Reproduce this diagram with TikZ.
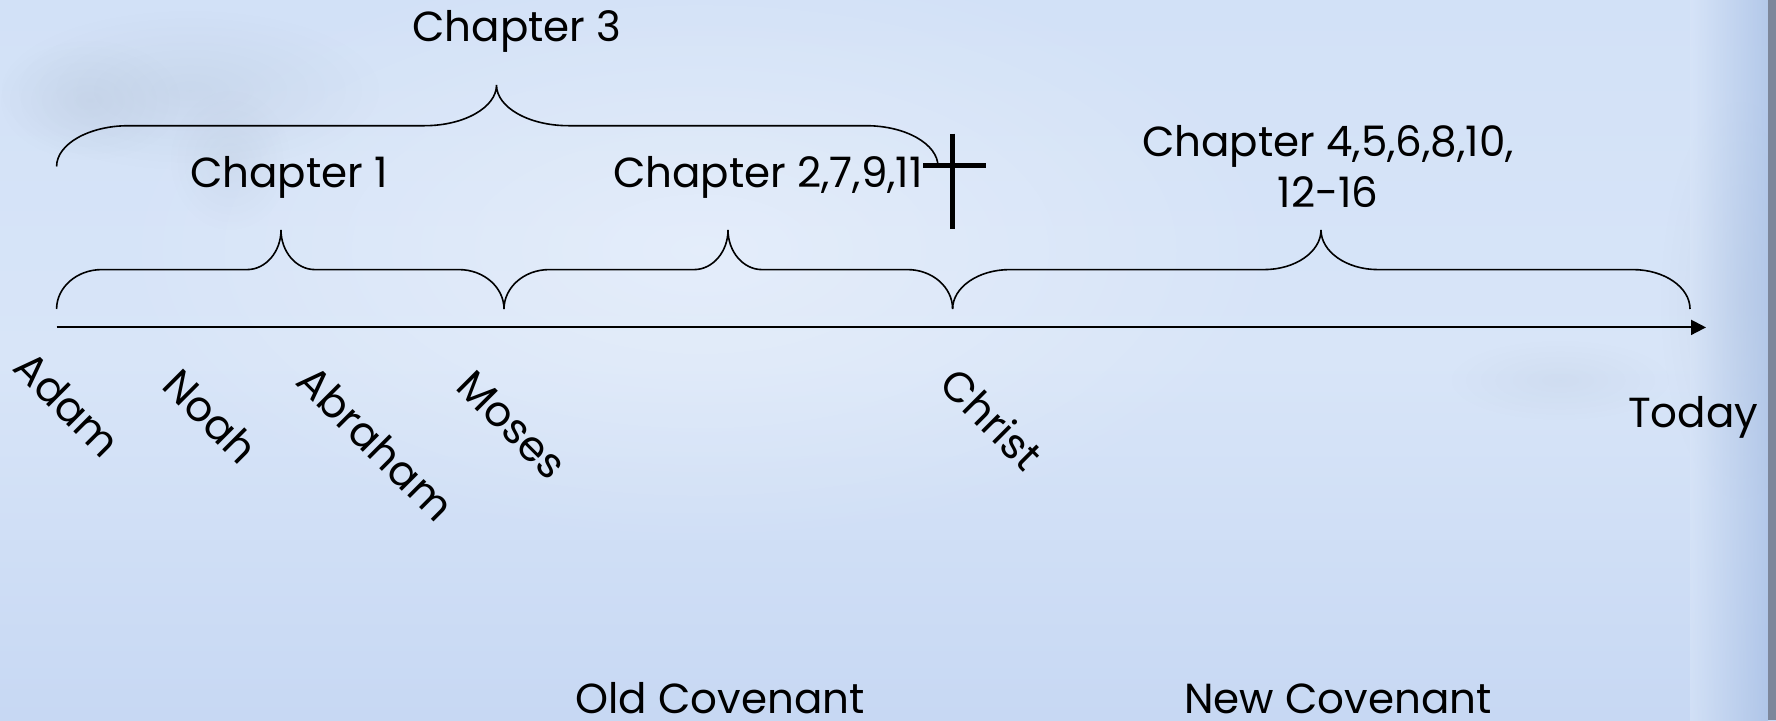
\documentclass[tikz,border=0pt]{standalone}
\usepackage{fontspec}
\setmainfont{Poppins}
\usetikzlibrary{arrows.meta,fadings}
\tikzfading[name=softfade, inner color=transparent!0, outer color=transparent!100]
\definecolor{bgtop}{RGB}{210,225,247}
\definecolor{bgmid}{RGB}{216,229,248}
\definecolor{bgbot}{RGB}{199,216,243}
\definecolor{cloud}{RGB}{165,180,200}
\definecolor{edgeblue}{RGB}{160,185,225}
\definecolor{edgegray}{RGB}{125,135,155}
\newcommand\tlbrace[8]{%
  \draw[bracestyle] (#1,#4)
    .. controls (#1,{#4-0.55*(#4-#5)}) and ({#1+0.45*#7},#5) .. ({#1+#7},#5)
    -- ({#3-#8},#5)
    .. controls ({#3-0.45*#8},#5) and (#3,{#6+0.55*(#5-#6)}) .. (#3,#6)
    .. controls (#3,{#6+0.55*(#5-#6)}) and ({#3+0.45*#8},#5) .. ({#3+#8},#5)
    -- ({#2-#7},#5)
    .. controls ({#2-0.45*#7},#5) and (#2,{#4-0.55*(#4-#5)}) .. (#2,#4);}
\tikzset{
  bracestyle/.style={line width=1.6pt, black},
  axisline/.style={line width=2pt, -{Triangle[length=15pt,width=15pt]}},
  crossline/.style={line width=4.5pt},
  lbl/.style={font=\fontsize{42}{50}\selectfont, inner sep=0pt},
  slant/.style={lbl, rotate=-45},
  softspot/.style={path fading=softfade},
}
\begin{document}
\begin{tikzpicture}[x=1pt,y=-1pt]
\useasboundingbox (0,0) rectangle (1776,720);
\shade[top color=bgtop, bottom color=bgbot, middle color=bgmid] (0,0) rectangle (1776,720);
\fill[white, opacity=0.35, softspot] (700,250) ellipse (600pt and 300pt);
\fill[cloud, opacity=0.22, softspot] (190,90) ellipse (190pt and 80pt);
\fill[cloud, opacity=0.20, softspot] (90,100) ellipse (90pt and 60pt);
\fill[cloud, opacity=0.18, softspot] (230,160) ellipse (60pt and 70pt);
\fill[cloud, opacity=0.15, softspot] (1560,380) ellipse (110pt and 40pt);
\fill[cloud, opacity=0.20, softspot] (1740,300) ellipse (80pt and 200pt);
\shade[left color=bgmid, right color=edgeblue, opacity=0.6] (1690,0) rectangle (1768,720);
\fill[edgegray] (1768,0) rectangle (1776,720);

% axis
\coordinate (axL) at (56.6,327.4);
\coordinate (axR) at (1706,327.4);
\draw[axisline] (axL) -- (axR);

% lower braces
\tlbrace{56.6}{504}{281}{309}{269.6}{230}{45}{34}
\tlbrace{504}{952.6}{728}{309}{269.6}{230}{45}{34}
\tlbrace{952.6}{1690}{1321}{309}{269.6}{230}{57}{57}
% upper brace
\tlbrace{56.6}{938}{496.5}{166.5}{125.7}{85}{72}{72}

% cross
\coordinate (crT) at (952.6,133.7);
\coordinate (crB) at (952.6,228.8);
\coordinate (crL) at (923,165.4);
\coordinate (crR) at (985.5,165.4);
\draw[crossline] (crT) -- (crB);
\draw[crossline] (crL) -- (crR);

% labels
\node[lbl, anchor=base] (ch3) at (517,41) {Chapter 3};
\node[lbl, anchor=base] (ch1) at (289,187) {Chapter 1};
\node[lbl, anchor=base east] (ch2) at (923,187) {Chapter 2,7,9,11};
\node[lbl, anchor=base] (ch4) at (1328,156) {Chapter 4,5,6,8,10,};
\node[lbl, anchor=base] (ch12) at (1328,207) {12-16};

\node[slant] (adam) at (68,404) {Adam};
\node[slant] (noah) at (211,416) {Noah};
\node[slant] (abraham) at (376,443) {Abraham};
\node[slant] (moses) at (512,425) {Moses};
\node[slant] (christ) at (992,419) {Christ};
\node[lbl, anchor=base] (today) at (1693,427) {Today};

\node[lbl, anchor=base] (old) at (720,713) {Old Covenant};
\node[lbl, anchor=base] (new) at (1338,713) {New Covenant};
\end{tikzpicture}
\end{document}
